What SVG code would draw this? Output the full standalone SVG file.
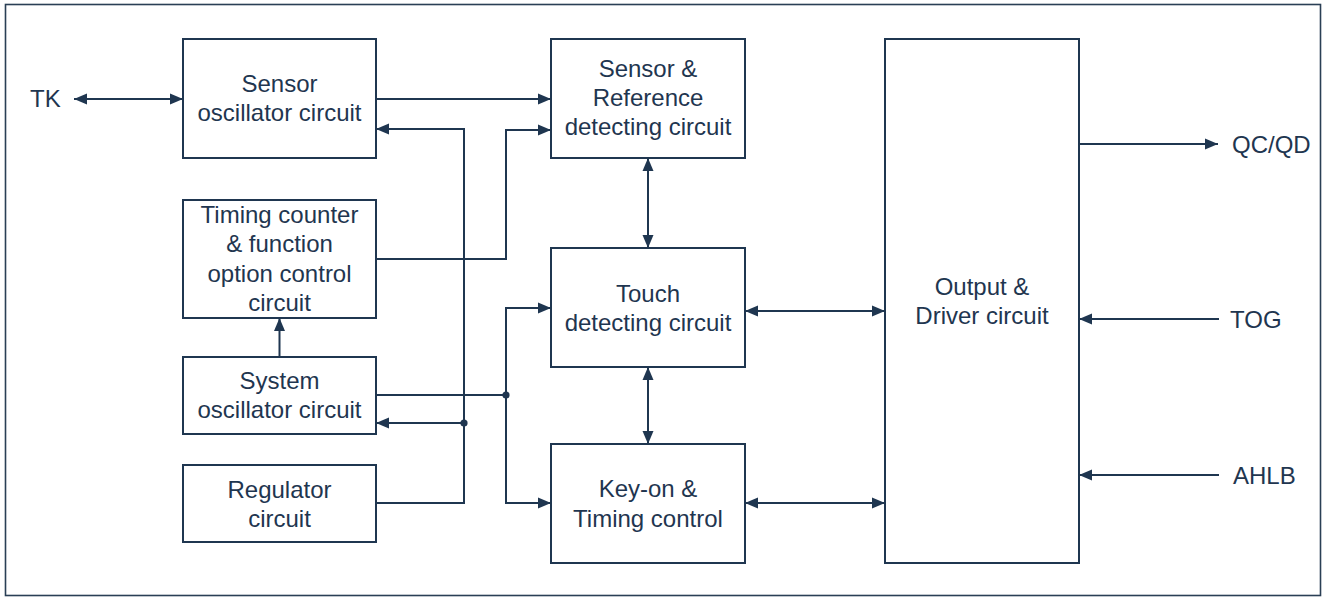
<svg xmlns="http://www.w3.org/2000/svg" width="1328" height="597" viewBox="0 0 1328 597">
  <defs>
    <style>
      .box { fill: #ffffff; stroke: #1f3650; stroke-width: 2; }
      .frame { fill: #ffffff; stroke: #2a3f55; stroke-width: 1.6; }
      .t { font-family: "Liberation Sans", Arial, sans-serif; font-size: 24px; fill: #1f3650; text-anchor: middle; }
      .lbl { font-family: "Liberation Sans", Arial, sans-serif; font-size: 24px; fill: #1f3650; }
      .wire { fill: none; stroke: #1f3650; stroke-width: 2; }
      .a { marker-end: url(#arr); }
      .aa { marker-start: url(#arr); marker-end: url(#arr); }
      .dot { fill: #1f3650; }
    </style>
    <marker id="arr" markerUnits="userSpaceOnUse" markerWidth="13" markerHeight="12" refX="13" refY="6" orient="auto-start-reverse" viewBox="0 0 13 12">
      <path d="M0,0.5 L13,6 L0,11.5 z" fill="#1f3650"/>
    </marker>
  </defs>

  <rect class="frame" x="5.5" y="4.5" width="1315" height="591"/>

  <g id="node-sensor-osc">
    <rect class="box" x="183" y="39" width="193" height="119"/>
    <text class="t" x="279.5" y="92">Sensor</text>
    <text class="t" x="279.5" y="120.7">oscillator circuit</text>
  </g>
  <g id="node-timing">
    <rect class="box" x="183" y="200" width="193" height="118"/>
    <text class="t" x="279.5" y="222.7">Timing counter</text>
    <text class="t" x="279.5" y="252.3">&amp; function</text>
    <text class="t" x="279.5" y="281.7">option control</text>
    <text class="t" x="279.5" y="310.5">circuit</text>
  </g>
  <g id="node-system-osc">
    <rect class="box" x="183" y="357" width="193" height="77"/>
    <text class="t" x="279.5" y="389.3">System</text>
    <text class="t" x="279.5" y="418.3">oscillator circuit</text>
  </g>
  <g id="node-regulator">
    <rect class="box" x="183" y="465" width="193" height="77"/>
    <text class="t" x="279.5" y="498">Regulator</text>
    <text class="t" x="279.5" y="526.7">circuit</text>
  </g>
  <g id="node-sensor-ref">
    <rect class="box" x="551" y="39" width="194" height="119"/>
    <text class="t" x="648" y="76.7">Sensor &amp;</text>
    <text class="t" x="648" y="106">Reference</text>
    <text class="t" x="648" y="135.3">detecting circuit</text>
  </g>
  <g id="node-touch">
    <rect class="box" x="551" y="248" width="194" height="119"/>
    <text class="t" x="648" y="301.5">Touch</text>
    <text class="t" x="648" y="330.7">detecting circuit</text>
  </g>
  <g id="node-keyon">
    <rect class="box" x="551" y="444" width="194" height="119"/>
    <text class="t" x="648" y="497.3">Key-on &amp;</text>
    <text class="t" x="648" y="526.7">Timing control</text>
  </g>
  <g id="node-output">
    <rect class="box" x="885" y="39" width="194" height="524"/>
    <text class="t" x="982" y="295.4">Output &amp;</text>
    <text class="t" x="982" y="324.3">Driver circuit</text>
  </g>

  <g id="labels">
    <text class="lbl" x="30" y="107">TK</text>
    <text class="lbl" x="1232" y="152.5">QC/QD</text>
    <text class="lbl" x="1230" y="327.5">TOG</text>
    <text class="lbl" x="1233" y="484">AHLB</text>
  </g>

  <g id="connectors">
    <path class="wire aa" d="M74,99 H183"/>
    <path class="wire a" d="M376,99 H551"/>
    <path class="wire a" d="M376,503 H464 V129 H376"/>
    <path class="wire a" d="M464,423 H376"/>
    <path class="wire a" d="M376,259 H506 V130 H551"/>
    <path class="wire" d="M376,395 H506"/>
    <path class="wire a" d="M506,395 V308 H551"/>
    <path class="wire a" d="M506,395 V503 H551"/>
    <path class="wire a" d="M279.5,357 V318"/>
    <path class="wire aa" d="M648,158 V248"/>
    <path class="wire aa" d="M648,367 V444"/>
    <path class="wire aa" d="M745,311 H885"/>
    <path class="wire aa" d="M745,503 H885"/>
    <path class="wire a" d="M1079,144 H1218"/>
    <path class="wire a" d="M1219,319 H1079"/>
    <path class="wire a" d="M1219,475 H1079"/>
    <circle class="dot" cx="464" cy="423" r="3.6"/>
    <circle class="dot" cx="506" cy="395" r="3.6"/>
  </g>
</svg>
